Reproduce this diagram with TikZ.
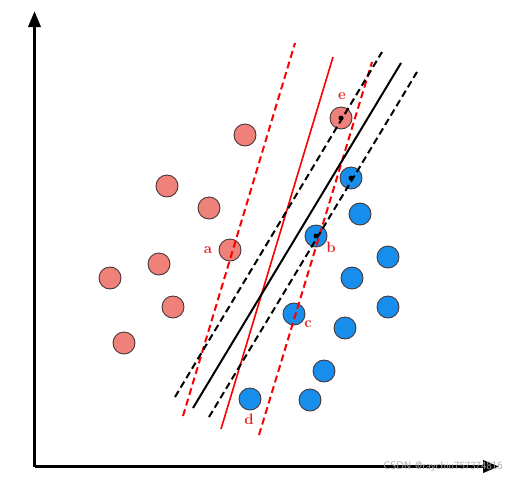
\documentclass[tikz,border=0pt]{standalone}
\usepackage{tikz}
\usetikzlibrary{arrows.meta,positioning}
\definecolor{svmRed}{RGB}{240,128,122}
\definecolor{svmBlue}{RGB}{24,142,236}
\definecolor{svmEdge}{RGB}{70,55,55}
\definecolor{svmLabel}{RGB}{235,30,30}
\definecolor{svmLine}{RGB}{250,0,0}
\definecolor{svmMark}{RGB}{165,165,165}

\begin{document}
\begin{tikzpicture}[x=1pt,y=-1pt,
  redpt/.style={circle,draw=svmEdge,fill=svmRed,line width=0.9pt,minimum size=22pt,inner sep=0pt},
  bluept/.style={circle,draw=svmEdge,fill=svmBlue,line width=0.9pt,minimum size=22pt,inner sep=0pt},
  svdot/.style={circle,fill=black,inner sep=0pt,minimum size=5pt},
  lbl/.style={text=svmLabel,font=\bfseries\fontsize{15}{15}\selectfont},
  margin/.style={line width=2pt,dash pattern=on 7pt off 4pt},
  axis/.style={line width=3.4pt,-{Triangle[length=16pt,width=12pt]}}]
\useasboundingbox (0,0) rectangle (526,485);

% axes
\coordinate (O) at (34.5,466.5);
\coordinate (ytop) at (34.5,11);
\coordinate (xend) at (499,466.5);
\draw[axis] (O) -- (ytop);
\draw[axis] (O) -- (xend);
\node[text=svmMark,font=\sffamily\fontsize{11}{11}\selectfont] (mark) at (443,467) {CSDN @raychiu757374816};

% class one
\foreach \n/\px/\py in {r1/245/135,r2/167/186,r3/209/208,ra/230/250,r5/159/264,r6/110/278,r7/173/307,r8/124/343,re/341/118}{
  \node[redpt] (\n) at (\px,\py) {};
}
% class two
\foreach \n/\px/\py in {bs/351/178,b2/360/214,bb/316/236,b4/388/257,b5/352/278,b6/388/307,bc/294/314,b8/345/328,b9/324/371,bd/250/399,b11/310/400}{
  \node[bluept] (\n) at (\px,\py) {};
}

% separating lines
\draw[svmLine,line width=1.6pt] (221,429) -- (333,57);
\draw[svmLine,margin] (183,416) -- (295,43);
\draw[svmLine,margin] (259,435) -- (372,62);
\draw[black,line width=2pt] (193,408) -- (401,63);
\draw[black,margin] (175,397) -- (382,52);
\draw[black,margin] (209,417) -- (417,72);

% support vectors
\foreach \n in {re,bs,bb}{
  \node[svdot] at (\n.center) {};
}

% labels
\node[lbl,left=3pt of ra] (la) {a};
\node[lbl] (lb) at (331,247) {b};
\node[lbl] (lc) at (308,324) {c};
\node[lbl] (ld) at (249,419) {d};
\node[lbl] (le) at (342,96) {e};
\end{tikzpicture}
\end{document}
